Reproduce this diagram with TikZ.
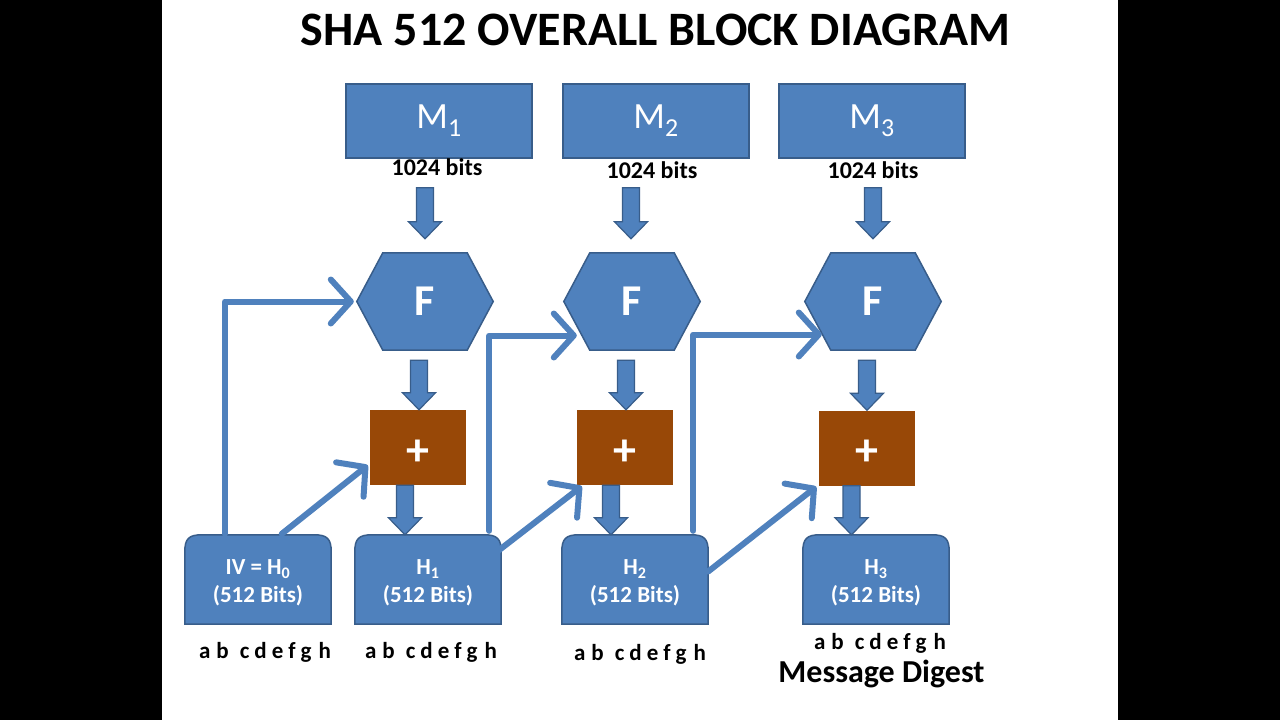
\documentclass[tikz,border=0pt]{standalone}
\usepackage{fontspec}
\setmainfont{Carlito}
\usetikzlibrary{calc,arrows.meta}
\definecolor{boxblue}{HTML}{4F81BD}
\definecolor{boxedge}{HTML}{385D8A}
\definecolor{addbrown}{HTML}{984807}
\tikzset{
  msgbox/.style={draw=boxedge,line width=1.5pt,fill=boxblue,minimum width=186pt,minimum height=74pt,inner sep=0pt,text=white,font=\fontsize{37}{37}\selectfont},
  bitslabel/.style={font=\bfseries\fontsize{24}{24}\selectfont,anchor=base,inner sep=0pt},
  hexnode/.style={minimum width=136pt,minimum height=97pt,inner sep=0pt,text=white,font=\bfseries\fontsize{44}{44}\selectfont},
  hexshape/.style={draw=boxedge,line width=1.5pt,fill=boxblue},
  addbox/.style={fill=addbrown,minimum width=96pt,minimum height=75pt,inner sep=0pt},
  plussign/.style={text=white,font=\bfseries\fontsize{46}{46}\selectfont,inner sep=0pt},
  hashbox/.style={minimum width=146pt,minimum height=89pt,inner sep=0pt},
  hashshape/.style={draw=boxedge,line width=1.5pt,fill=boxblue},
  hashtext/.style={text=white,font=\bfseries\fontsize{23}{28}\selectfont,align=center,inner sep=0pt},
  letters/.style={font=\bfseries\fontsize{23}{23}\selectfont,anchor=base,inner sep=0pt},
  fat/.style={draw=boxedge,line width=1.2pt,fill=boxblue,line join=miter},
  flow/.style={draw=boxblue,line width=6pt,line cap=round,line join=round,-{Straight Barb[length=20pt,width=44pt,line width=6pt,round]}},
}
\newcommand\fatarrow[2]{%
  \filldraw[fat] let \p1=#1, \p2=#2 in
    (\x1-8.5pt,\y1) -- (\x1+8.5pt,\y1) -- (\x1+8.5pt,\y2+17pt) -- (\x1+16.5pt,\y2+17pt)
    -- (\x1,\y2) -- (\x1-16.5pt,\y2+17pt) -- (\x1-8.5pt,\y2+17pt) -- cycle;}
\newcommand\hexdraw[1]{%
  \filldraw[hexshape] (#1.west) -- ($(#1.north west)+(26,0)$) -- ($(#1.north east)+(-26,0)$)
    -- (#1.east) -- ($(#1.south east)+(-26,0)$) -- ($(#1.south west)+(26,0)$) -- cycle;
  \node[hexnode] at (#1) {F};}
\newcommand\hashdraw[1]{%
  \filldraw[hashshape] (#1.south west) -- ($(#1.north west)+(0,17)$)
    .. controls ($(#1.north west)+(0,4)$) and ($(#1.north west)+(4,0)$) .. ($(#1.north west)+(17,0)$)
    -- ($(#1.north east)+(-17,0)$)
    .. controls ($(#1.north east)+(-4,0)$) and ($(#1.north east)+(0,4)$) .. ($(#1.north east)+(0,17)$)
    -- (#1.south east) -- cycle;}
\newcommand\abc{a\kern6pt b\kern11pt c\kern5pt d\kern5pt e\kern5pt f\kern5pt g\kern7pt h}
\begin{document}
\begin{tikzpicture}[x=1pt,y=-1pt]
\useasboundingbox (0,0) rectangle (1280,720);
\fill[black] (0,0) rectangle (162,720);
\fill[black] (1118,0) rectangle (1280,720);
\fill[white] (162,0) rectangle (1118,720);

\node[font=\bfseries\fontsize{48}{48}\selectfont,anchor=base,inner sep=0pt] (title) at (655.5,45) {SHA 512 OVERALL BLOCK DIAGRAM};

% message blocks
\node[msgbox] (M1) at (439,121) {M\textsubscript{1}};
\node[msgbox] (M2) at (656,121) {M\textsubscript{2}};
\node[msgbox] (M3) at (872,121) {M\textsubscript{3}};
\node[bitslabel] (b1) at (437,175) {1024 bits};
\node[bitslabel] (b2) at (652,178) {1024 bits};
\node[bitslabel] (b3) at (873,178) {1024 bits};

% compression functions
\node[hexnode] (F1) at (425,301.5) {};
\node[hexnode] (F2) at (632,301.5) {};
\node[hexnode] (F3) at (873,301.5) {};
\hexdraw{F1}\hexdraw{F2}\hexdraw{F3}

% adders
\node[addbox] (P1) at (418,447.5) {};
\node[addbox] (P2) at (625,447.5) {};
\node[addbox] (P3) at (866.5,448) {};
\node[plussign] (p1) at ($(P1)+(0,5)$) {+};
\node[plussign] (p2) at ($(P2)+(0,5)$) {+};
\node[plussign] (p3) at ($(P3)+(0,5)$) {+};

% hash values
\node[hashbox] (IV) at (258,579.5) {};
\node[hashbox] (H1) at (428,579.5) {};
\node[hashbox] (H2) at (635,579.5) {};
\node[hashbox] (H3) at (876,579.5) {};
\hashdraw{IV}\hashdraw{H1}\hashdraw{H2}\hashdraw{H3}
\node[hashtext] (IVt) at (258,583) {IV = H\textsubscript{0}\\(512 Bits)};
\node[hashtext] (H1t) at (428,583) {H\textsubscript{1}\\(512 Bits)};
\node[hashtext] (H2t) at (635,583) {H\textsubscript{2}\\(512 Bits)};
\node[hashtext] (H3t) at (876,583) {H\textsubscript{3}\\(512 Bits)};

\node[letters] (l0) at (265,658) {\abc};
\node[letters] (l1) at (431,658) {\abc};
\node[letters] (l2) at (640,660) {\abc};
\node[letters] (l3) at (880,649) {\abc};
\node[font=\bfseries\fontsize{32}{32}\selectfont,anchor=base,inner sep=0pt] (md) at (881.5,682) {Message Digest};

% block arrows
\fatarrow{($(M1.south)+(-14,29)$)}{($(F1.north)+(0,-14)$)}
\fatarrow{($(M2.south)+(-25,29)$)}{($(F2.north)+(0,-14)$)}
\fatarrow{($(M3.south)+(1,29)$)}{($(F3.north)+(0,-14)$)}
\fatarrow{($(F1.south)+(-6,10)$)}{(P1.north)}
\fatarrow{($(F2.south)+(-6,10)$)}{(P2.north)}
\fatarrow{($(F3.south)+(-6,10)$)}{(P3.north)}
\fatarrow{($(P1.south)+(-13,0)$)}{(H1.north)}
\fatarrow{($(P2.south)+(-14,0)$)}{(H2.north)}
\fatarrow{($(P3.south)+(-15,0)$)}{(H3.north)}

% chaining arrows
\coordinate (t1) at ($(F1.west)+(-3,0)$);
\coordinate (t3) at ($(F2.west)+(13,34)$);
\coordinate (t5) at ($(F3.west)+(17,33)$);
\draw[flow] ($(IV.north west)+(40,-1)$) |- (t1);
\draw[flow] ($(IV.north west)+(97,-1)$) -- ($(P1.south west)+(-2,-20)$);
\draw[flow] ($(H1.north east)+(-12,-4)$) |- (t3);
\draw[flow] ($(H1.north east)+(-3,16)$) -- ($(P2.south west)+(5,1)$);
\draw[flow] ($(H2.north east)+(-15,-4)$) |- (t5);
\draw[flow] ($(H2.east)+(0,-8)$) -- ($(P3.south west)+(-2,1)$);
\end{tikzpicture}
\end{document}
